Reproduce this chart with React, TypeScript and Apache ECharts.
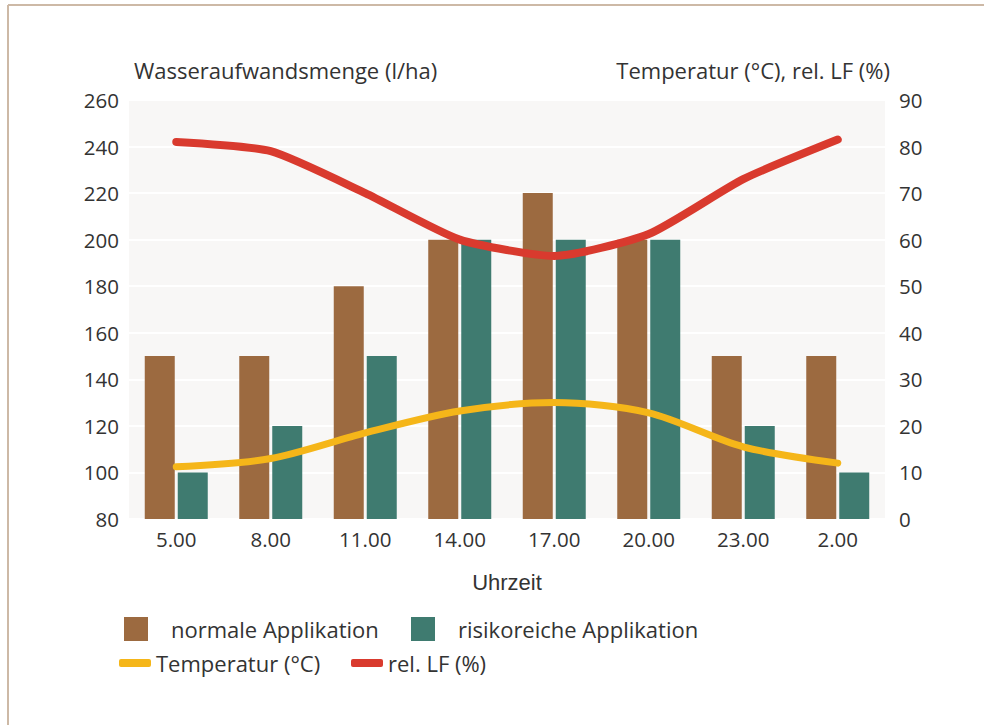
import React, { useEffect, useRef } from "react";
import * as echarts from "echarts";

const categories = ["5.00", "8.00", "11.00", "14.00", "17.00", "20.00", "23.00", "2.00"];
const normalApp = [150, 150, 180, 200, 220, 200, 150, 150];
const riskApp = [100, 120, 150, 200, 200, 200, 120, 100];
const temperature = [11.2, 13, 18.5, 23.2, 25, 22.8, 15.5, 12];
const relLF = [81, 79, 70, 60, 56.5, 61.2, 73, 81.5];

const FONT = "Open Sans";
const TXT = "#333333";

export default function App() {
  const ref = useRef<HTMLDivElement>(null);
  useEffect(() => {
    document.body.style.margin = "0";
    const chart = echarts.init(ref.current!, undefined, { renderer: "svg" });
    const legendBase = {
      selectedMode: false,
      orient: "horizontal",
      textStyle: { fontFamily: FONT, fontSize: 22, color: TXT },
    };
    chart.setOption({
      animation: false,
      backgroundColor: "#ffffff",
      textStyle: { fontFamily: FONT },
      grid: { left: 129, right: 99, top: 100, bottom: 206, backgroundColor: "#f8f7f6", show: true, borderWidth: 0 },
      xAxis: {
        type: "category",
        data: categories,
        axisLine: { show: false },
        axisTick: { show: false },
        axisLabel: { fontFamily: FONT, fontSize: 20.5, color: TXT, margin: 9 },
        name: "Uhrzeit",
        nameLocation: "middle",
        nameGap: 52,
        nameTextStyle: { fontFamily: "Liberation Sans", fontSize: 22, color: TXT },
      },
      yAxis: [
        {
          type: "value",
          min: 80,
          max: 260,
          interval: 20,
          axisLine: { show: false },
          axisTick: { show: false },
          axisLabel: { fontFamily: FONT, fontSize: 20.5, color: TXT, margin: 10 },
          splitLine: { show: true, lineStyle: { color: "#ffffff", width: 2 } },
        },
        {
          type: "value",
          min: 0,
          max: 90,
          interval: 10,
          position: "right",
          axisLine: { show: false },
          axisTick: { show: false },
          axisLabel: { fontFamily: FONT, fontSize: 20.5, color: TXT, margin: 14 },
          splitLine: { show: false },
        },
      ],
      legend: [
        { ...legendBase, data: ["normale Applikation"], left: 119, top: 612, itemWidth: 24, itemHeight: 24, icon: "rect",
          textStyle: { ...legendBase.textStyle, padding: [0, 0, 0, 18] } },
        { ...legendBase, data: ["risikoreiche Applikation"], left: 406, top: 612, itemWidth: 24, itemHeight: 24, icon: "rect",
          textStyle: { ...legendBase.textStyle, padding: [0, 0, 0, 18] } },
        { ...legendBase, data: ["Temperatur (°C)"], left: 114, top: 647, itemWidth: 32, itemHeight: 8, icon: "roundRect" },
        { ...legendBase, data: ["rel. LF (%)"], left: 346, top: 647, itemWidth: 32, itemHeight: 8, icon: "roundRect" },
      ],
      graphic: [
        { type: "line", shape: { x1: 8, y1: 5, x2: 984, y2: 5 }, style: { stroke: "#cdb9a6", lineWidth: 2 } },
        { type: "line", shape: { x1: 8, y1: 5, x2: 8, y2: 725 }, style: { stroke: "#cdb9a6", lineWidth: 2 } },
        { type: "text", left: 134, top: 59, style: { text: "Wasseraufwandsmenge (l/ha)", fontFamily: FONT, fontSize: 22, fill: TXT } },
        { type: "text", right: 94, top: 59, style: { text: "Temperatur (°C), rel. LF (%)", fontFamily: FONT, fontSize: 22, fill: TXT } },
      ],
      series: [
        { name: "normale Applikation", type: "bar", data: normalApp, barWidth: 30, barGap: "10%", itemStyle: { color: "#9c6a40" } },
        { name: "risikoreiche Applikation", type: "bar", data: riskApp, barWidth: 30, itemStyle: { color: "#3f7b70" } },
        { name: "Temperatur (°C)", type: "line", yAxisIndex: 1, data: temperature, smooth: 0.3, showSymbol: false,
          lineStyle: { color: "#f5b619", width: 7, cap: "round" }, itemStyle: { color: "#f5b619" } },
        { name: "rel. LF (%)", type: "line", yAxisIndex: 1, data: relLF, smooth: 0.2, showSymbol: false,
          lineStyle: { color: "#d93a2e", width: 8, cap: "round" }, itemStyle: { color: "#d93a2e" } },
      ],
    });
    return () => chart.dispose();
  }, []);
  return <div ref={ref} style={{ width: 984, height: 725 }} />;
}
